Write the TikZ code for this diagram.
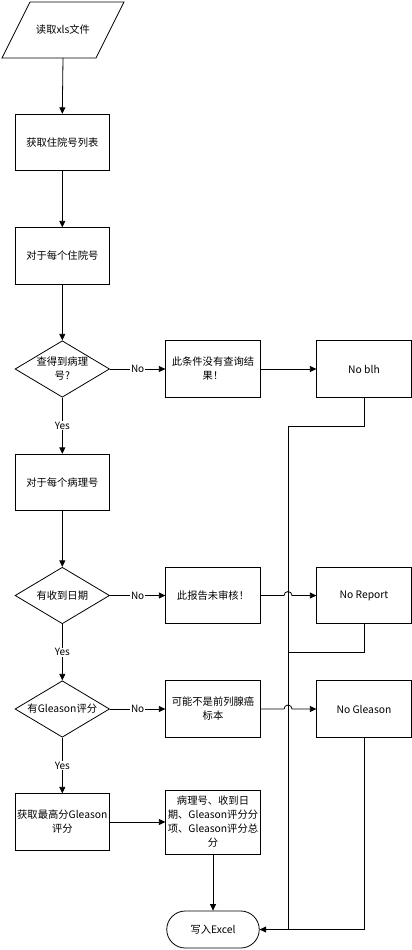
\documentclass[tikz,border=0pt]{standalone}
\usepackage{fontspec}
\setmainfont{Noto Sans CJK SC}
\usetikzlibrary{arrows.meta,shapes.geometric,shapes.misc}
\begin{document}
\begin{tikzpicture}[x=1pt,y=-1pt,
  font=\fontsize{10.3}{14}\selectfont,
  ln/.style={line width=0.8pt, draw=black},
  arr/.style={ln, -{Triangle[length=6.5pt,width=6pt]}},
  box/.style={draw, line width=0.8pt, minimum width=94.5pt, minimum height=56.5pt, inner sep=1pt, align=center, fill=white},
  dec/.style={draw, diamond, line width=0.8pt, minimum width=94.5pt, minimum height=56.5pt, inner sep=0pt, fill=white},
  lbl/.style={fill=white, inner sep=1pt, font=\fontsize{10}{11}\selectfont},
  term/.style={draw, rounded rectangle, line width=0.8pt, minimum width=94.5pt, minimum height=37pt, inner sep=1pt, fill=white}
]
\useasboundingbox (0,0) rectangle (412,950);

% parallelogram
\draw[line width=0.8pt, fill=white] (2,58) -- (30,2) -- (124,2) -- (96,58) -- cycle;
\node[minimum width=60pt, minimum height=56pt, inner sep=0pt] (read) at (63,30) {读取xls文件};
\coordinate (readS) at (63,58);

\node[box] (b1) at (62.3,142.5) {获取住院号列表};
\node[box] (b2) at (62.3,256) {对于每个住院号};
\node[dec] (d1) at (62.3,369) {};
\node[align=center] at (d1) {查得到病理\\号?};
\node[box] (b3) at (62.3,482.5) {对于每个病理号};
\node[dec] (d2) at (62.3,595.5) {};
\node[align=center] at (d2) {有收到日期};
\node[dec] (d3) at (62.3,709) {};
\node[align=center] at (d3) {有Gleason评分};
\node[box] (b4) at (62.3,822) {获取最高分Gleason\\评分};

\node[box] (m1) at (213,369) {此条件没有查询结\\果！};
\node[box] (m2) at (213,595.5) {此报告未审核！};
\node[box] (m3) at (213,709) {可能不是前列腺癌\\标本};
\node[box, minimum height=64pt] (m4) at (213,822) {病理号、收到日\\期、Gleason评分分\\项、Gleason评分总\\分};
\node[term] (excel) at (213,929.5) {写入Excel};

\node[box] (r1) at (364,369) {No blh};
\node[box] (r2) at (364,595.5) {No Report};
\node[box] (r3) at (364,709) {No Gleason};

% main chain
\draw[arr] (readS) -- (b1.north);
\draw[arr] (b1.south) -- (b2.north);
\draw[arr] (b2.south) -- (d1.north);
\draw[arr] (d1.south) -- node[lbl]{Yes} (b3.north);
\draw[arr] (b3.south) -- (d2.north);
\draw[arr] (d2.south) -- node[lbl]{Yes} (d3.north);
\draw[arr] (d3.south) -- node[lbl]{Yes} (b4.north);
\draw[arr] (b4.east) -- (m4.west |- b4.east);
\draw[arr] (m4.south) -- (excel.north);

% No branches
\draw[arr] (d1.east) -- node[lbl]{No} (m1.west);
\draw[arr] (d2.east) -- node[lbl]{No} (m2.west);
\draw[arr] (d3.east) -- node[lbl]{No} (m3.west);

\draw[arr] (m1.east) -- (r1.west);
\draw[arr] (m2.east) -- (284,595.5) arc[start angle=180, end angle=360, radius=4] -- (r2.west);
\draw[arr] (m3.east) -- (284,709) arc[start angle=180, end angle=360, radius=4] -- (r3.west);

% feedback bus
\coordinate (busTop) at (288,426);
\coordinate (busMid) at (288,652);
\coordinate (busBot) at (288,929.5);
\draw[ln] (r1.south) |- (busTop) -- (busBot);
\draw[ln] (r2.south) |- (busMid);
\draw[arr] (r3.south) |- (excel.east);
\end{tikzpicture}
\end{document}
